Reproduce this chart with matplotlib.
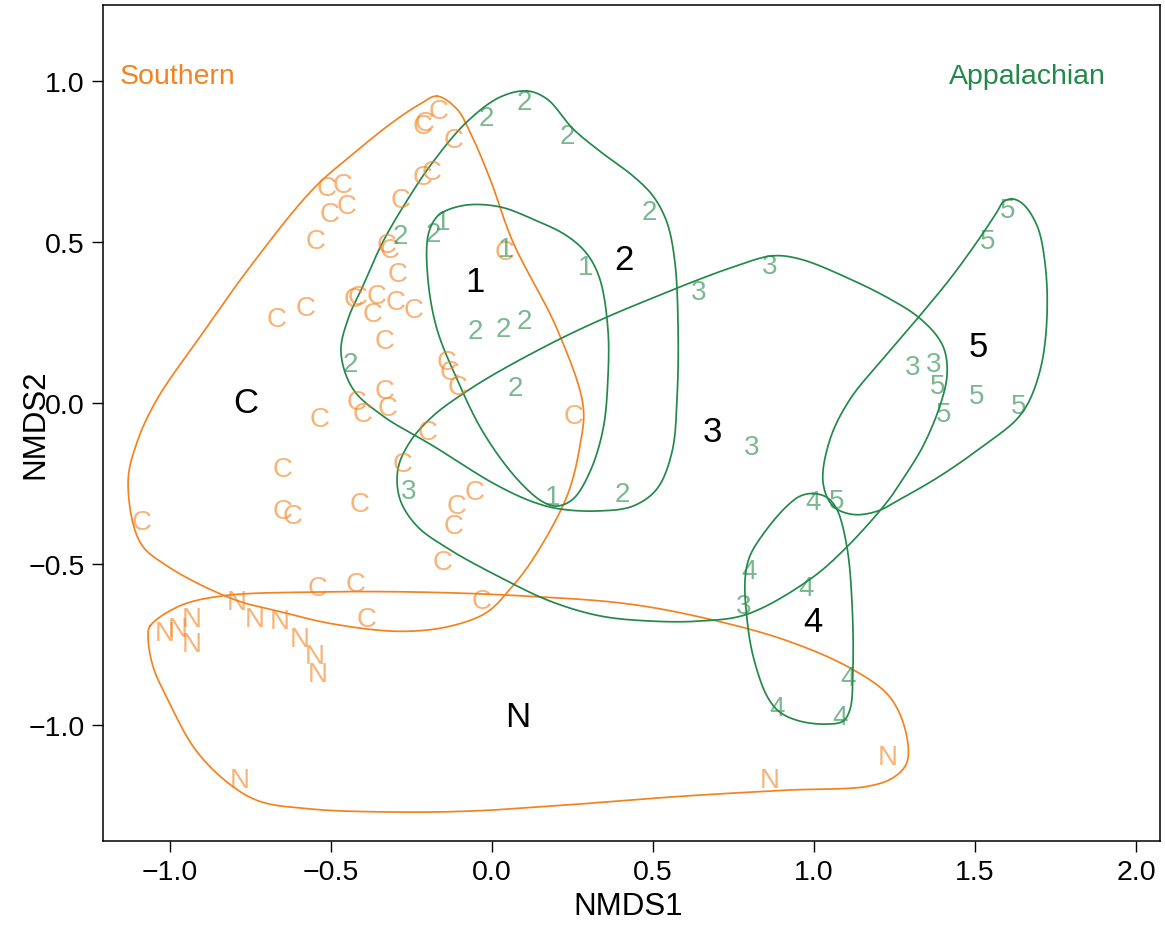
import numpy as np
import matplotlib
matplotlib.use("Agg")
import matplotlib.pyplot as plt
from matplotlib.ticker import FuncFormatter

plt.rcParams["font.family"] = ["Liberation Sans", "DejaVu Sans"]

ORANGE = "#F4821F"
GREEN = "#23894A"

# --- site scores (NMDS1, NMDS2), labelled by group ---
c_x = [-0.165, -0.214, -0.208, -0.118, -0.512, -0.463, -0.503, -0.450, -0.547, -0.283,
       -0.214, -0.186, -0.326, -0.317, -0.292, -0.416, -0.429, -0.357, -0.298, -0.242,
       -0.370, -0.332, -0.668, -0.578, -0.140, -0.130, -0.106, 0.040, -0.419, -0.332,
       -0.323, -0.401, -0.534, -0.199, 0.252, -0.649, -0.276, -0.053, -0.109, -0.118,
       -0.649, -0.618, -0.410, -1.087, -0.152, -0.543, -0.422, -0.031, -0.388]
c_y = [0.906, 0.860, 0.869, 0.816, 0.667, 0.676, 0.586, 0.611, 0.502, 0.629,
       0.701, 0.717, 0.490, 0.474, 0.400, 0.328, 0.321, 0.331, 0.313, 0.288,
       0.275, 0.192, 0.260, 0.294, 0.126, 0.095, 0.049, 0.468, 0.002, 0.036,
       -0.016, -0.035, -0.051, -0.091, -0.041, -0.206, -0.190, -0.278, -0.321, -0.383,
       -0.336, -0.352, -0.315, -0.371, -0.495, -0.576, -0.563, -0.616, -0.672]

n_x = [-1.016, -0.975, -0.932, -0.932, -0.792, -0.736, -0.658, -0.596, -0.550, -0.540,
       -0.783, 0.863, 1.230]
n_y = [-0.715, -0.703, -0.672, -0.750, -0.619, -0.672, -0.678, -0.734, -0.787, -0.843,
       -1.173, -1.173, -1.101]

g1_x = [-0.152, 0.043, 0.292, 0.189]
g1_y = [0.561, 0.477, 0.421, -0.293]
g2_x = [-0.019, 0.099, 0.233, 0.488, -0.286, -0.183, -0.053, 0.034, 0.099, 0.071, -0.441, 0.404]
g2_y = [0.884, 0.934, 0.828, 0.592, 0.518, 0.524, 0.223, 0.229, 0.254, 0.046, 0.120, -0.284]
g3_x = [0.863, 0.643, 0.807, 1.307, 1.370, -0.258, 0.783]
g3_y = [0.424, 0.343, -0.138, 0.111, 0.120, -0.275, -0.632]
g4_x = [0.997, 0.798, 0.975, 1.106, 0.885, 1.081]
g4_y = [-0.309, -0.523, -0.576, -0.855, -0.948, -0.976]
g5_x = [1.602, 1.540, 1.385, 1.401, 1.506, 1.634, 1.071]
g5_y = [0.598, 0.502, 0.052, -0.035, 0.021, -0.010, -0.305]

# group name labels (black)
grp_names = ["C", "N", "1", "2", "3", "4", "5"]
grp_lab_x = [-0.764, 0.081, -0.053, 0.410, 0.683, 0.997, 1.509]
grp_lab_y = [0.000, -0.973, 0.375, 0.446, -0.088, -0.678, 0.176]

# --- group outlines ---
hull_c_x = [-0.171, -0.109, -0.068, -0.006, 0.065, 0.202, 0.283, 0.273, 0.233, 0.127,
            0.056, -0.016, -0.130, -0.286, -0.494, -0.649, -0.804, -1.009, -1.093, -1.130,
            -1.102, -1.040, -0.907, -0.752, -0.556, -0.432, -0.307, -0.224]
hull_c_y = [0.952, 0.912, 0.840, 0.695, 0.499, 0.229, -0.010, -0.134, -0.290, -0.486,
            -0.579, -0.651, -0.694, -0.710, -0.687, -0.651, -0.610, -0.507, -0.433, -0.247,
            -0.122, 0.011, 0.204, 0.421, 0.663, 0.772, 0.872, 0.927]
hull_n_x = [-1.062, -0.972, -0.839, -0.559, -0.230, 0.096, 0.425, 0.674, 0.919, 1.118,
            1.233, 1.283, 1.289, 1.248, 1.168, 0.919, 0.590, 0.261, -0.065, -0.314,
            -0.559, -0.724, -0.823, -0.922, -1.003, -1.053, -1.068]
hull_n_y = [-0.694, -0.632, -0.600, -0.588, -0.588, -0.600, -0.625, -0.672, -0.740, -0.827,
            -0.911, -1.014, -1.116, -1.163, -1.191, -1.203, -1.222, -1.247, -1.268, -1.271,
            -1.262, -1.237, -1.178, -1.076, -0.930, -0.818, -0.725]
hull_1_x = [-0.152, -0.078, 0.025, 0.127, 0.233, 0.295, 0.335, 0.360, 0.360, 0.345, 0.304,
            0.252, 0.202, 0.158, 0.078, -0.028, -0.109, -0.171, -0.199, -0.199, -0.177]
hull_1_y = [0.592, 0.614, 0.608, 0.570, 0.518, 0.462, 0.384, 0.229, 0.074, -0.082, -0.215,
            -0.299, -0.321, -0.308, -0.237, -0.091, 0.074, 0.229, 0.384, 0.517, 0.570]
hull_2_x = [0.109, 0.171, 0.252, 0.335, 0.438, 0.500, 0.543, 0.568, 0.578, 0.575, 0.559,
            0.512, 0.438, 0.335, 0.211, 0.127, 0.009, -0.183, -0.339, -0.432, -0.469,
            -0.447, -0.401, -0.339, -0.255, -0.183, -0.078, 0.025]
hull_2_y = [0.968, 0.943, 0.850, 0.781, 0.704, 0.642, 0.561, 0.437, 0.229, 0.021, -0.153,
            -0.268, -0.321, -0.336, -0.330, -0.308, -0.253, -0.134, -0.041, 0.043, 0.157,
            0.260, 0.362, 0.499, 0.642, 0.748, 0.872, 0.949]
hull_3_x = [0.870, 0.957, 1.112, 1.236, 1.320, 1.382, 1.407, 1.413, 1.391, 1.339, 1.276,
            1.227, 1.102, 0.988, 0.792, 0.646, 0.491, 0.335, 0.180, 0.025, -0.130,
            -0.233, -0.286, -0.292, -0.255, -0.183, -0.078, 0.025, 0.211, 0.357, 0.491,
            0.646, 0.748]
hull_3_y = [0.456, 0.446, 0.384, 0.322, 0.269, 0.207, 0.157, 0.083, -0.010, -0.134, -0.237,
            -0.308, -0.448, -0.548, -0.657, -0.678, -0.678, -0.662, -0.616, -0.542, -0.457,
            -0.383, -0.299, -0.206, -0.122, -0.041, 0.036, 0.099, 0.198, 0.266, 0.322,
            0.384, 0.421]
hull_4_x = [0.997, 1.040, 1.071, 1.102, 1.118, 1.121, 1.112, 1.090, 1.040, 0.957, 0.894,
            0.854, 0.811, 0.792, 0.786, 0.801, 0.854, 0.916, 0.957]
hull_4_y = [-0.282, -0.294, -0.331, -0.446, -0.620, -0.827, -0.952, -0.989, -0.998, -0.989,
            -0.961, -0.911, -0.787, -0.672, -0.548, -0.476, -0.392, -0.321, -0.290]
hull_5_x = [1.615, 1.649, 1.693, 1.717, 1.724, 1.708, 1.671, 1.630, 1.525, 1.391, 1.267,
            1.196, 1.121, 1.059, 1.028, 1.050, 1.112, 1.214, 1.320, 1.422, 1.506, 1.568, 1.587]
hull_5_y = [0.633, 0.617, 0.549, 0.437, 0.282, 0.126, 0.011, -0.051, -0.135, -0.228, -0.300,
            -0.337, -0.347, -0.321, -0.247, -0.113, 0.011, 0.136, 0.260, 0.384, 0.499, 0.592, 0.623]


def smooth_closed(xs, ys, n=30, alpha=0.5):
    # centripetal Catmull-Rom through the outline points, closed
    P = np.column_stack([xs, ys]).astype(float)
    m = len(P)
    segs = []
    for i in range(m):
        p0, p1, p2, p3 = P[(i - 1) % m], P[i], P[(i + 1) % m], P[(i + 2) % m]
        t0 = 0.0
        t1 = t0 + np.linalg.norm(p1 - p0) ** alpha
        t2 = t1 + np.linalg.norm(p2 - p1) ** alpha
        t3 = t2 + np.linalg.norm(p3 - p2) ** alpha
        t = np.linspace(t1, t2, n, endpoint=False)[:, None]
        a1 = (t1 - t) / (t1 - t0) * p0 + (t - t0) / (t1 - t0) * p1
        a2 = (t2 - t) / (t2 - t1) * p1 + (t - t1) / (t2 - t1) * p2
        a3 = (t3 - t) / (t3 - t2) * p2 + (t - t2) / (t3 - t2) * p3
        b1 = (t2 - t) / (t2 - t0) * a1 + (t - t0) / (t2 - t0) * a2
        b2 = (t3 - t) / (t3 - t1) * a2 + (t - t1) / (t3 - t1) * a3
        segs.append((t2 - t) / (t2 - t1) * b1 + (t - t1) / (t2 - t1) * b2)
    out = np.vstack(segs + [segs[0][:1]])
    return out[:, 0], out[:, 1]


fig = plt.figure(figsize=(11.65, 9.37), dpi=100)
ax = fig.add_axes([0.0884, 0.1014, 0.9069, 0.8922])

# outlines
for hx, hy, col in [(hull_c_x, hull_c_y, ORANGE), (hull_n_x, hull_n_y, ORANGE),
                    (hull_1_x, hull_1_y, GREEN), (hull_2_x, hull_2_y, GREEN),
                    (hull_3_x, hull_3_y, GREEN), (hull_4_x, hull_4_y, GREEN),
                    (hull_5_x, hull_5_y, GREEN)]:
    sx, sy = smooth_closed(hx, hy)
    ax.plot(sx, sy, color=col, lw=1.25, zorder=2)

# site labels
pt_size = 20
for xs, ys, lab, col in [(c_x, c_y, "C", ORANGE), (n_x, n_y, "N", ORANGE),
                         (g1_x, g1_y, "1", GREEN), (g2_x, g2_y, "2", GREEN),
                         (g3_x, g3_y, "3", GREEN), (g4_x, g4_y, "4", GREEN),
                         (g5_x, g5_y, "5", GREEN)]:
    for x, y in zip(xs, ys):
        ax.text(x, y, lab, color=col, alpha=0.6, fontsize=pt_size,
                ha="center", va="center", zorder=3)

for name, x, y in zip(grp_names, grp_lab_x, grp_lab_y):
    ax.text(x, y, name, color="black", fontsize=25, ha="center", va="center", zorder=4)

ax.text(-1.155, 1.015, "Southern", color=ORANGE, fontsize=20.5, ha="left", va="center")
ax.text(1.907, 1.015, "Appalachian", color=GREEN, fontsize=20.5, ha="right", va="center")

ax.set_xlim(-1.208, 2.073)
ax.set_ylim(-1.361, 1.235)
ax.set_xticks(np.arange(-1.0, 2.01, 0.5))
ax.set_yticks(np.arange(-1.0, 1.01, 0.5))
fmt = FuncFormatter(lambda v, p: f"{v:.1f}".replace("-", "\u2212"))
ax.xaxis.set_major_formatter(fmt)
ax.yaxis.set_major_formatter(fmt)
ax.tick_params(direction="out", length=8, width=1.0, labelsize=20.5, pad=5)
for s in ax.spines.values():
    s.set_linewidth(1.1)
ax.set_xlabel("NMDS1", fontsize=22.5)
ax.set_ylabel("NMDS2", fontsize=22.5)
ax.xaxis.set_label_coords(0.497, -0.060)
ax.yaxis.set_label_coords(-0.050, 0.5)

fig.savefig("out.png", dpi=100)
